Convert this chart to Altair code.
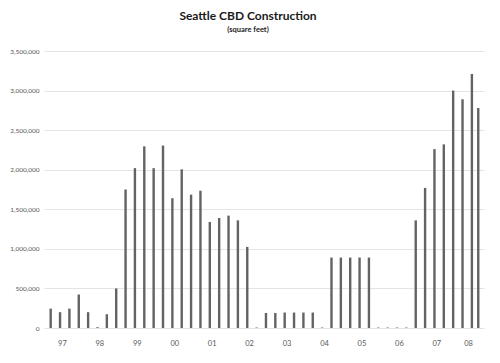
import altair as alt
import pandas as pd

# quarterly periods (decimal years); final point is a partial period
periods = [1997.0, 1997.25, 1997.5, 1997.75,
           1998.0, 1998.25, 1998.5, 1998.75,
           1999.0, 1999.25, 1999.5, 1999.75,
           2000.0, 2000.25, 2000.5, 2000.75,
           2001.0, 2001.25, 2001.5, 2001.75,
           2002.0, 2002.25, 2002.5, 2002.75,
           2003.0, 2003.25, 2003.5, 2003.75,
           2004.0, 2004.25, 2004.5, 2004.75,
           2005.0, 2005.25, 2005.5, 2005.75,
           2006.0, 2006.25, 2006.5, 2006.75,
           2007.0, 2007.25, 2007.5, 2007.75,
           2008.0, 2008.25, 2008.42]

sqft = [245000, 200000, 245000, 423000,
        200000, 10000, 175000, 500000,
        1750000, 2020000, 2295000, 2020000,
        2305000, 1640000, 2005000, 1685000,
        1735000, 1340000, 1390000, 1420000,
        1360000, 1025000, 6000, 190000,
        190000, 195000, 195000, 195000,
        195000, 6000, 890000, 890000,
        890000, 890000, 890000, 6000,
        6000, 6000, 6000, 1360000,
        1770000, 2260000, 2320000, 3000000,
        2890000, 3210000, 2780000]

years = list(range(1997, 2009))
y_ticks = [0, 500000, 1000000, 1500000, 2000000, 2500000, 3000000, 3500000]

# year label position: mean of that year's periods, nudged slightly left
tick_pos = []
for yr in years:
    ps = [p for p in periods if int(p) == yr]
    tick_pos.append(round(sum(ps) / len(ps) - 0.075, 3))

df = pd.DataFrame({"period": periods, "sqft": sqft})

FONT = "Lato"

chart = alt.Chart(df).mark_bar(size=2.4, color="#636363").encode(
    x=alt.X("period:Q",
            scale=alt.Scale(domain=[1996.955, 2008.44], nice=False, zero=False),
            axis=alt.Axis(values=tick_pos, title=None, grid=False, domain=False,
                          ticks=False, labelExpr="substring(toString(floor(datum.value)), 2)",
                          labelFont=FONT, labelFontSize=7.5, labelColor="#595959",
                          labelPadding=11, labelFlush=False)),
    y=alt.Y("sqft:Q",
            scale=alt.Scale(domain=[0, 3500000], nice=False),
            axis=alt.Axis(values=y_ticks, format=",.0f", title=None, domain=False,
                          ticks=False, gridColor="#e4e4e4", gridWidth=1,
                          labelFont=FONT, labelFontSize=6.5, labelColor="#595959",
                          labelPadding=5)),
).properties(
    width=440,
    height=277,
    autosize=alt.AutoSizeParams(type="none"),
    padding={"left": 36, "top": 43, "right": 8, "bottom": 30},
    title=alt.TitleParams(
        text="Seattle CBD Construction",
        subtitle="(square feet)",
        font=FONT, fontSize=12, fontWeight="bold", color="#1a1a1a",
        subtitleFont=FONT, subtitleFontSize=7.5, subtitleFontWeight="bold",
        subtitleColor="#1a1a1a", subtitlePadding=3,
        anchor="middle", dx=-16, offset=14,
    ),
).configure_view(stroke=None)

chart.save("out.html", embed_options={"renderer": "svg", "actions": False})
